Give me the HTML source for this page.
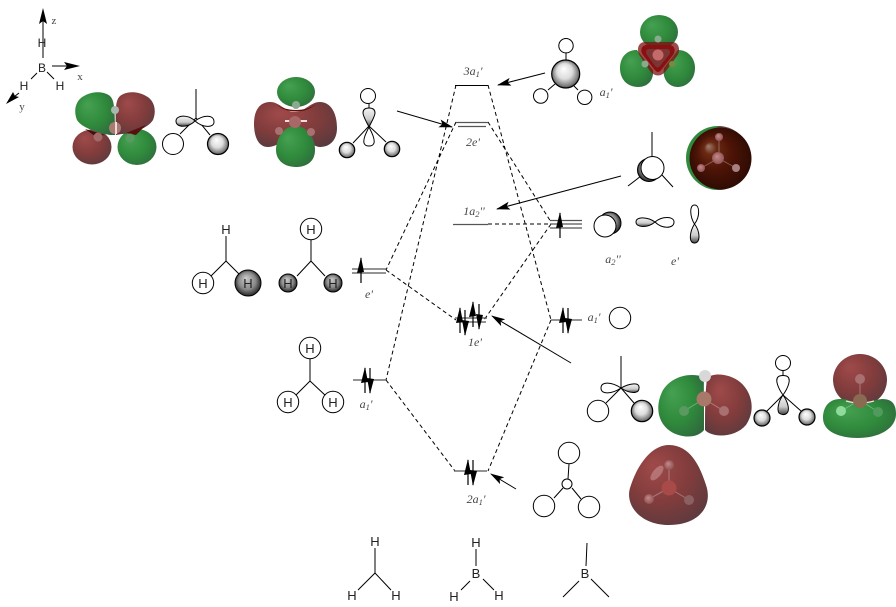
<!DOCTYPE html>
<html><head><meta charset="utf-8"><style>
html,body{margin:0;padding:0;background:#fff;width:896px;height:607px;overflow:hidden}
svg{display:block}
.h{font:13px "Liberation Sans",sans-serif;fill:#222;text-anchor:middle}
.l{font:italic 12px "Liberation Serif",serif;fill:#444;text-anchor:middle}
.s{font-size:8.5px}
.ln{stroke:#000;stroke-width:1;fill:none}
.d{stroke:#000;stroke-width:1;fill:none;stroke-dasharray:4 3}
.w{fill:#fff;stroke:#000;stroke-width:1}
.g{fill:url(#ball);stroke:#000;stroke-width:1.2}
.lv{stroke:#555;stroke-width:1.3;fill:none}
.a{stroke:#000;stroke-width:1;fill:none}
.at{stroke:#fff;stroke-opacity:.3;stroke-width:1;fill:none}
</style></head><body>
<svg width="896" height="607" viewBox="0 0 896 607" xmlns="http://www.w3.org/2000/svg">
<defs>
<radialGradient id="ball" cx=".5" cy=".5" r=".55" fx=".42" fy=".3"><stop offset="0" stop-color="#fff"/><stop offset=".5" stop-color="#ddd"/><stop offset=".85" stop-color="#777"/><stop offset="1" stop-color="#000"/></radialGradient>
<radialGradient id="dball" cx=".5" cy=".5" r=".55" fx=".42" fy=".3"><stop offset="0" stop-color="#ccc"/><stop offset=".6" stop-color="#888"/><stop offset="1" stop-color="#111"/></radialGradient>
<radialGradient id="gr" cx=".45" cy=".45" r=".65" fx=".3" fy=".28"><stop offset="0" stop-color="#46a152"/><stop offset=".6" stop-color="#2f8a3c"/><stop offset="1" stop-color="#2f6a3d"/></radialGradient>
<radialGradient id="rd" cx=".45" cy=".4" r=".7" fx=".3" fy=".25"><stop offset="0" stop-color="#a04a4a"/><stop offset=".55" stop-color="#823c3c"/><stop offset="1" stop-color="#583a3e"/></radialGradient>
<radialGradient id="dk" cx=".5" cy=".5" r=".55" fx=".3" fy=".3"><stop offset="0" stop-color="#a08070"/><stop offset=".18" stop-color="#6a2a14"/><stop offset=".5" stop-color="#4e1406"/><stop offset="1" stop-color="#2a0a04"/></radialGradient>
<radialGradient id="at" cx=".5" cy=".5" r=".55" fx=".4" fy=".35"><stop offset="0" stop-color="#c98a8a"/><stop offset="1" stop-color="#8a5050"/></radialGradient>
<linearGradient id="lobe" x1="0" y1="0" x2="0" y2="1"><stop offset="0" stop-color="#f4f4f4"/><stop offset=".6" stop-color="#ccc"/><stop offset="1" stop-color="#444"/></linearGradient>
<symbol id="up" overflow="visible"><path d="M0 0V25" stroke="#000" fill="none" stroke-width="1.2"/><path d="M0 -1L3 14L-4 15Z" fill="#000"/></symbol>
<symbol id="dn" overflow="visible"><path d="M0 0V25" stroke="#000" fill="none" stroke-width="1.2"/><path d="M0 26L4 11L-3 10Z" fill="#000"/></symbol>
<marker id="ah" markerWidth="14" markerHeight="9" refX="13" refY="4" orient="auto" markerUnits="userSpaceOnUse"><path d="M0 0L14 4L0 8L3 4Z" fill="#000"/></marker>
</defs>

<!-- axes -->
<path class="a" d="M43 58V12" /><path d="M43 8L47 24L43 21L39 24Z" fill="#000"/>
<text class="l" x="54" y="24" style="font-style:normal;font-size:11px">z</text>
<text class="h" x="42" y="47" style="font-size:12px">H</text>
<text class="h" x="42" y="72" style="font-size:12px">B</text>
<path class="a" d="M52 66H74"/><path d="M80 66L64 70L67 66L64 62Z" fill="#000"/>
<text class="l" x="80" y="80" style="font-style:normal;font-size:11px">x</text>
<path class="a" d="M37 73L31 79M47 72L54 79"/>
<text class="h" x="24" y="90" style="font-size:12px">H</text>
<text class="h" x="60" y="90" style="font-size:12px">H</text>
<path class="a" d="M19 93L10 100"/><path d="M6 104L13 92L15 96L19 97Z" fill="#000"/>
<text class="l" x="22" y="110" style="font-style:normal;font-size:11px">y</text>

<!-- top-left orbital -->
<ellipse cx="92" cy="147" rx="19.500" ry="17.500" fill="url(#rd)"/>
<ellipse cx="137" cy="147" rx="19.500" ry="18" fill="url(#gr)"/>
<path d="M115 135L110 135C98 133 82 128 77 120C73 110 76 100 84 96C92 91 104 91 110 96C114 100 115 106 115 135Z" fill="url(#gr)"/>
<path d="M116 135L122 134C134 133 148 128 153 120C157 110 154 100 146 96C138 91 126 91 120 96C116 100 115 106 116 135Z" fill="url(#rd)"/>
<path d="M85 129L105 135L95 136Z" fill="#3a1010"/><path d="M126 133L146 125L136 135Z" fill="#5a0f0f"/>
<circle cx="115" cy="110" r="4" fill="#a9b8ae"/><circle cx="115" cy="128" r="6" fill="#a87c72"/><rect x="115" y="122" width="2" height="12" fill="#f3d8d8"/>
<circle cx="98" cy="137" r="4.500" fill="#a36a6a"/><circle cx="130" cy="138" r="4.500" fill="#5a9a60"/>

<!-- sketch A -->
<path class="ln" d="M196 89V118M196 118L180 134M196 118L210 135"/>
<path d="M195 121C188 114 176 115 176 121C176 128 188 128 195 121Z" fill="url(#lobe)" stroke="#000"/>
<path d="M195 121C203 115 214 114 214 122C214 128 203 128 195 121Z" fill="#fff" stroke="#000"/>
<circle class="w" cx="173" cy="144" r="10.500"/><circle class="g" cx="218" cy="144" r="10.500"/>

<!-- second orbital -->
<path d="M254 124C254 110 260 102 270 102C280 102 285 112 295 112C305 112 310 102 320 102C330 102 337 112 337 128C337 140 330 147 320 147C312 147 296 132 295 126C294 132 280 147 268 147C258 147 254 136 254 124Z" fill="url(#rd)"/>
<ellipse cx="296" cy="92" rx="19" ry="15" fill="url(#gr)"/>
<path d="M276 104C286 112 306 112 316 104C306 114 286 114 276 104Z" fill="#6a0b0b"/>
<path d="M295 126C306 126 315 136 315 150C315 162 306 167 296 167C284 167 276 160 276 150C276 138 284 126 295 126Z" fill="url(#gr)"/>
<path d="M285 121L307 121" stroke="#f6dede" stroke-width="2"/><circle cx="295" cy="122" r="6" fill="#a86868"/>
<circle cx="296" cy="105" r="4" fill="#8aaa90"/><circle cx="279" cy="131" r="4" fill="#a87070"/><circle cx="311" cy="132" r="4" fill="#a87070"/>

<!-- sketch B -->
<path class="ln" d="M369 104V109M369 126L353 143M369 126L386 142"/>
<path d="M369 127C372 121 375 116 375 113C375 109 372 108 369 108C366 108 363 109 363 113C363 116 366 121 369 127Z" fill="url(#lobe)" stroke="#000"/>
<path d="M369 127C372 133 375 139 374 143C373 147 365 147 364 143C363 139 366 133 369 127Z" fill="#fff" stroke="#000"/>
<circle class="w" cx="368" cy="96" r="7.500"/><circle class="g" cx="347" cy="150" r="7.700"/><circle class="g" cx="392" cy="149" r="7.700"/>

<!-- dashed correlations -->
<path class="d" d="M456 85L386 380M488 85L551 320M456 122L386 270M488 122L551 222M488 224H551M551 224L484 320M386 270L456 320M386 380L455 471M551 320L488 471"/>

<!-- levels -->
<path class="ln" stroke-width="1.2" d="M455 85.500H488"/>
<path class="lv" d="M456 122.500H488M458 126.500H486M453 224.500H488M455 318H487M457 322H486"/>
<path class="lv" d="M352 269H386M352 273H386M353 380H386M550 220.500H582M550 224H582M550 228H582M551 320H582M454 471H487"/>

<use href="#up" x="361" y="258"/>
<use href="#up" x="365" y="368"/><use href="#dn" x="370" y="368"/>
<use href="#up" x="460" y="308"/><use href="#dn" x="465" y="310"/><use href="#up" x="473" y="302"/><use href="#dn" x="479" y="304"/>
<use href="#up" x="560" y="213"/>
<use href="#up" x="563" y="308"/><use href="#dn" x="568" y="308"/>
<use href="#up" x="468" y="460"/><use href="#dn" x="473" y="460"/>

<!-- level labels -->
<text class="l" x="473" y="75">3<tspan>a</tspan><tspan class="s" dy="2">1</tspan><tspan dy="-2">'</tspan></text>
<text class="l" x="473" y="146">2e'</text>
<text class="l" x="474" y="215">1a<tspan class="s" dy="2">2</tspan><tspan dy="-2">''</tspan></text>
<text class="l" x="369" y="298">e'</text>
<text class="l" x="366" y="408">a<tspan class="s" dy="2">1</tspan><tspan dy="-2">'</tspan></text>
<text class="l" x="475" y="346">1e'</text>
<text class="l" x="476" y="503">2a<tspan class="s" dy="2">1</tspan><tspan dy="-2">'</tspan></text>
<text class="l" x="606" y="96">a<tspan class="s" dy="2">1</tspan><tspan dy="-2">'</tspan></text>
<text class="l" x="613" y="263">a<tspan class="s" dy="2">2</tspan><tspan dy="-2">''</tspan></text>
<text class="l" x="675" y="265">e'</text>
<text class="l" x="594" y="321">a<tspan class="s" dy="2">1</tspan><tspan dy="-2">'</tspan></text>

<!-- long arrows -->
<path class="ln" marker-end="url(#ah)" d="M397 111L452 127"/>
<path class="ln" marker-end="url(#ah)" d="M545 73L498 85"/>
<path class="ln" marker-end="url(#ah)" d="M621 176L497 209"/>
<path class="ln" marker-end="url(#ah)" d="M571 363L492 316"/>
<path class="ln" marker-end="url(#ah)" d="M516 489L491 474"/>

<!-- right top sketch -->
<path class="ln" d="M566 53V60M548 90L555 84M578 90L574 86"/>
<circle class="g" cx="565.700" cy="74" r="14"/>
<circle class="w" cx="566" cy="45.700" r="7.200"/><circle class="w" cx="540.700" cy="96" r="7.200"/><circle class="w" cx="584.700" cy="97.300" r="7.200"/>

<!-- top right orbital -->
<ellipse cx="659" cy="32" rx="19" ry="17" fill="url(#gr)"/>
<path d="M637 50C626 50 620 58 620 68C620 80 628 87 638 87C648 87 654 80 653 70Z" fill="url(#gr)"/>
<path d="M678 50C688 50 695 58 695 68C695 80 686 87 678 87C668 87 662 78 664 68Z" fill="url(#gr)"/>
<path d="M645 42H672C679 42 681 50 677 56L666 71C661 77 655 77 650 71L640 56C636 50 638 42 645 42Z" fill="#7c1010" fill-opacity=".75"/>
<path d="M647 45H669C675 45 676 51 673 55L662 69C659 73 657 73 654 69L643 55C640 51 641 45 647 45Z" fill="#8a0f10"/>
<path d="M649 49H667C670 49 671 52 669 55L660 66C658 68 657 68 655 66L647 55C645 52 646 49 649 49Z" fill="#7a3634"/>
<circle cx="658" cy="39" r="3.500" fill="#8aaa90"/><circle cx="645" cy="64" r="3.500" fill="#8aaa90"/><circle cx="672" cy="64" r="3" fill="#7a8a40"/><circle cx="658" cy="55" r="5.500" fill="#c46a6a"/>

<!-- sketch 2 right -->
<path class="ln" d="M652 132V157M641 176L628 186M662 175L673 187"/>
<circle cx="649" cy="170" r="11.500" fill="url(#dball)" stroke="#000"/>
<circle class="w" cx="652.500" cy="168" r="11.500"/>

<!-- dark sphere -->
<clipPath id="cs"><rect x="680" y="120" width="72" height="75"/></clipPath>
<g clip-path="url(#cs)">
<circle cx="718" cy="158" r="32" fill="#2f8a3c"/>
<path d="M718 126A32 32 0 0 1 718 190Z" fill="#6a4a4a"/>
<circle cx="720.500" cy="158.500" r="31" fill="url(#dk)"/>
</g>
<path class="at" d="M719 137V158L701 168M718 158L736 168"/>
<circle cx="719" cy="137" r="4" fill="url(#at)"/><circle cx="718" cy="158" r="6" fill="url(#at)"/><circle cx="701" cy="168" r="4" fill="url(#at)"/><circle cx="736" cy="168" r="4" fill="#a88080"/>

<!-- row a2'' / e' -->
<circle cx="610" cy="223" r="11" fill="url(#dball)" stroke="#000"/>
<circle class="w" cx="605" cy="226" r="11"/>
<path d="M655 222C648 217 636 216 636 222C636 228 648 228 655 222Z" fill="url(#lobe)" stroke="#000"/>
<path d="M655 222C662 216 674 216 674 222C674 229 662 229 655 222Z" fill="#fff" stroke="#000"/>
<path d="M694.500 224C690 217 689 205 694.500 205C700 205 700 217 694.500 224Z" fill="#fff" stroke="#000"/>
<path d="M694.500 224C690 231 688 243 694.500 243C701 243 700 231 694.500 224Z" fill="url(#lobe)" stroke="#000"/>

<!-- left fragments -->
<path class="ln" d="M226 236V261L211 276M226 261L240 275"/>
<text class="h" x="226" y="234">H</text>
<circle class="w" cx="203" cy="283" r="10.700"/><circle cx="248" cy="283" r="13" fill="url(#dball)" stroke="#000"/>
<text class="h" x="203" y="288">H</text><text class="h" x="248" y="288">H</text>

<path class="ln" d="M311 240V261L297 276M311 261L325 276"/>
<circle class="w" cx="311" cy="229" r="10.700"/><circle cx="288" cy="283" r="9" fill="url(#dball)" stroke="#000"/><circle cx="333" cy="283" r="9" fill="url(#dball)" stroke="#000"/>
<text class="h" x="311" y="234">H</text><text class="h" x="288" y="288">H</text><text class="h" x="333" y="288">H</text>

<path class="ln" d="M310 359V381L296 395M310 381L326 396"/>
<circle class="w" cx="310" cy="348" r="10.700"/><circle class="w" cx="288" cy="402" r="10.700"/><circle class="w" cx="333" cy="402" r="10.700"/>
<text class="h" x="310" y="353">H</text><text class="h" x="288" y="407">H</text><text class="h" x="333" y="407">H</text>

<circle class="w" cx="620" cy="318" r="10.700"/>

<!-- lower sketch -->
<path class="ln" d="M621 356V388L606 403M621 388L634 403"/>
<path d="M621 388C612 382 601 381 601 388C601 395 612 394 621 388Z" fill="#fff" stroke="#000"/>
<path d="M621 388C630 383 640 382 639 388C639 394 630 394 621 388Z" fill="url(#lobe)" stroke="#000"/>
<circle class="w" cx="598" cy="411" r="10.700"/><circle class="g" cx="642" cy="411" r="10.700"/>

<!-- green/red lobes -->
<path d="M704 377C690 372 672 376 663 390C655 405 657 422 670 431C682 439 698 438 704 430C704 410 704 395 704 377Z" fill="url(#gr)"/>
<path d="M705 430C712 438 735 438 746 425C756 410 752 392 740 382C730 374 714 372 707 378C705 395 705 410 705 430Z" fill="url(#rd)"/>
<path class="at" d="M684 411L704 399L724 411M704 399V376"/>
<circle cx="705" cy="376" r="6" fill="#d8d8d8"/><circle cx="704" cy="399" r="7.500" fill="#a87868"/><circle cx="684" cy="411" r="5" fill="#5a9a60"/><circle cx="724" cy="411" r="5" fill="#a87070"/>

<!-- sketch 3 -->
<path class="ln" d="M783 371V377M783 395L766 412M783 395L801 411"/>
<path d="M783 395C778 388 775 380 778 377C780 375 786 375 788 377C791 380 788 388 783 395Z" fill="#fff" stroke="#000"/>
<path d="M783 395C778 402 777 410 779 413C782 415 785 415 787 413C790 410 788 402 783 395Z" fill="url(#lobe)" stroke="#000"/>
<circle class="w" cx="783" cy="363" r="7.500"/><circle class="g" cx="762" cy="418" r="8"/><circle class="g" cx="807" cy="417" r="8"/>

<!-- red over green orbital -->
<ellipse cx="860" cy="380" rx="27" ry="26" fill="url(#rd)"/>
<path d="M823 418C823 406 830 399 840 399C850 399 852 403 860 403C870 403 872 400 882 399C892 399 896 404 896 414C896 428 880 438 858 438C840 438 823 432 823 418Z" fill="url(#gr)"/>
<path d="M846 401Q860 405 874 401" stroke="#f6dede" stroke-width="1.300" fill="none"/>
<path class="at" d="M860 379V400L841 411M860 400L878 412"/>
<circle cx="860" cy="379" r="5" fill="#a87070"/><circle cx="860" cy="401" r="7" fill="#8a6a50"/><circle cx="841" cy="411" r="5" fill="#8fdc9a"/><circle cx="878" cy="412" r="5" fill="#4f9a5c"/>

<!-- bottom right sketch -->
<path class="ln" d="M569 464L568 479M563 488L554 498M572 488L581 499"/>
<circle class="w" cx="569" cy="453" r="10.700"/><circle class="w" cx="567" cy="484" r="5"/><circle class="w" cx="544" cy="506" r="10.700"/><circle class="w" cx="589" cy="507" r="10.700"/>

<!-- bottom red blob -->
<path d="M669 445C690 445 700 466 706 485C713 505 700 525 669 525C640 525 625 505 630 488C636 468 650 445 669 445Z" fill="url(#rd)"/>
<ellipse cx="657" cy="473" rx="4" ry="9" transform="rotate(40 657 473)" fill="#c99" fill-opacity=".55"/>
<path class="at" d="M669 465V488L649 499M669 488L689 500"/>
<circle cx="669" cy="465" r="5" fill="url(#at)"/><circle cx="669" cy="488" r="7.500" fill="#a84a48"/><circle cx="649" cy="499" r="5" fill="url(#at)"/><circle cx="689" cy="500" r="5" fill="#8a6060"/>

<!-- bottom molecules -->
<path class="ln" d="M375 548V573L358 590M375 573L391 590" stroke="#333"/>
<text class="h" x="375" y="546">H</text><text class="h" x="352" y="600">H</text><text class="h" x="396" y="600">H</text>
<path class="ln" d="M476 549V566M470 581L461 590M483 579L494 590" stroke="#333"/>
<text class="h" x="476" y="547">H</text><text class="h" x="476" y="578">B</text><text class="h" x="454" y="601">H</text><text class="h" x="499" y="600">H</text>
<path class="ln" d="M587 543L586 566M579 581L563 597M591 579L609 597" stroke="#333"/>
<text class="h" x="585" y="578">B</text>
</svg>
</body></html>
